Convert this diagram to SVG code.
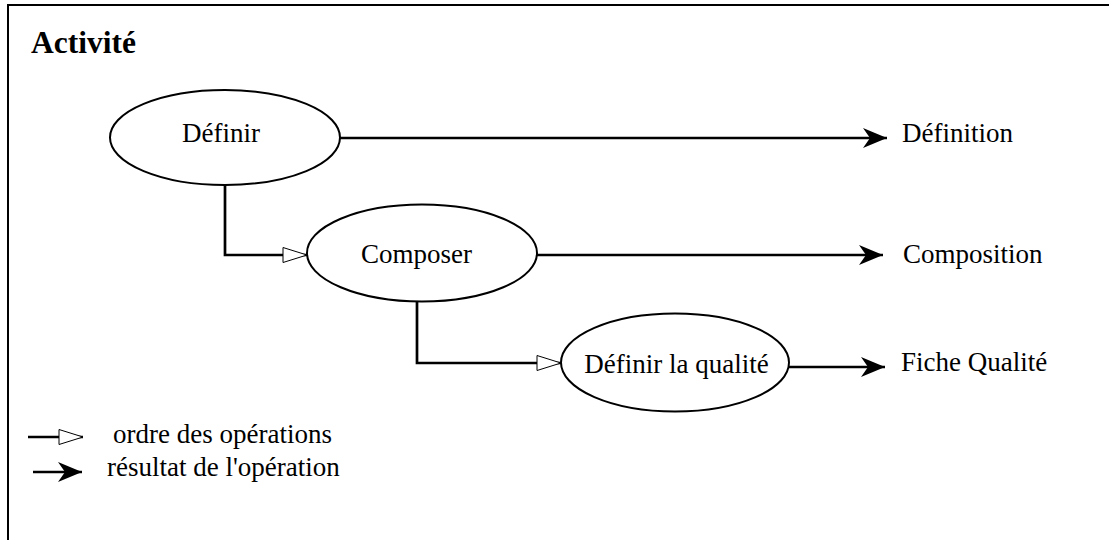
<svg xmlns="http://www.w3.org/2000/svg" width="1109" height="540" viewBox="0 0 1109 540">
<style>
.t{font-family:"Liberation Serif","Times New Roman",serif;font-size:27px;fill:#000}
.title{font-family:"Liberation Serif","Times New Roman",serif;font-size:31.5px;font-weight:bold;fill:#000}
.node ellipse{fill:#fff;stroke:#000;stroke-width:2}
.c{fill:none;stroke:#000;stroke-width:2.7}
.ord{marker-end:url(#hollow)}
.res{marker-end:url(#filled)}
</style>
<defs>
<marker id="filled" markerUnits="userSpaceOnUse" viewBox="0 0 24 20" refX="24" refY="10" markerWidth="24" markerHeight="20" orient="auto">
<path d="M0,0 L24,10 L0,20 L7,10 Z" fill="#000"/>
</marker>
<marker id="hollow" markerUnits="userSpaceOnUse" viewBox="-1 -1 26 17" refX="24" refY="7.5" markerWidth="26" markerHeight="17" orient="auto">
<path d="M0,0 L24,7.5 L0,15 Z" fill="#fff" stroke="#000" stroke-width="1"/>
</marker>
</defs>
<rect width="1109" height="540" fill="#fff"/>
<path d="M8,540 V5 H1109" fill="none" stroke="#000" stroke-width="2"/>
<text class="title" x="31" y="52.5">Activité</text>
<g id="connectors">
<path class="c res" d="M340,138 H887"/>
<path class="c res" d="M537,255 H883"/>
<path class="c res" d="M789,367 H885"/>
<path class="c ord" d="M225,185 V255 H307"/>
<path class="c ord" d="M417,301 V363 H561"/>
</g>
<g id="n-definir" class="node">
<ellipse cx="225" cy="137.5" rx="115" ry="47.5"/>
<text class="t" x="221" y="142" text-anchor="middle">Définir</text>
</g>
<g id="n-composer" class="node">
<ellipse cx="422" cy="253" rx="115" ry="48.5"/>
<text class="t" x="416.5" y="263" text-anchor="middle">Composer</text>
</g>
<g id="n-qualite" class="node">
<ellipse cx="675" cy="362.5" rx="114" ry="49"/>
<text class="t" x="676.5" y="373" text-anchor="middle">Définir la qualité</text>
</g>
<g id="n-definition"><text class="t" x="902" y="142">Définition</text></g>
<g id="n-composition"><text class="t" x="903" y="263">Composition</text></g>
<g id="n-fiche"><text class="t" x="901" y="371">Fiche Qualité</text></g>
<g id="legend">
<path class="c ord" d="M28,437 H83"/>
<text class="t" x="113" y="443">ordre des opérations</text>
<path class="c res" d="M33,472 H82"/>
<text class="t" x="107" y="476">résultat de l'opération</text>
</g>
</svg>
